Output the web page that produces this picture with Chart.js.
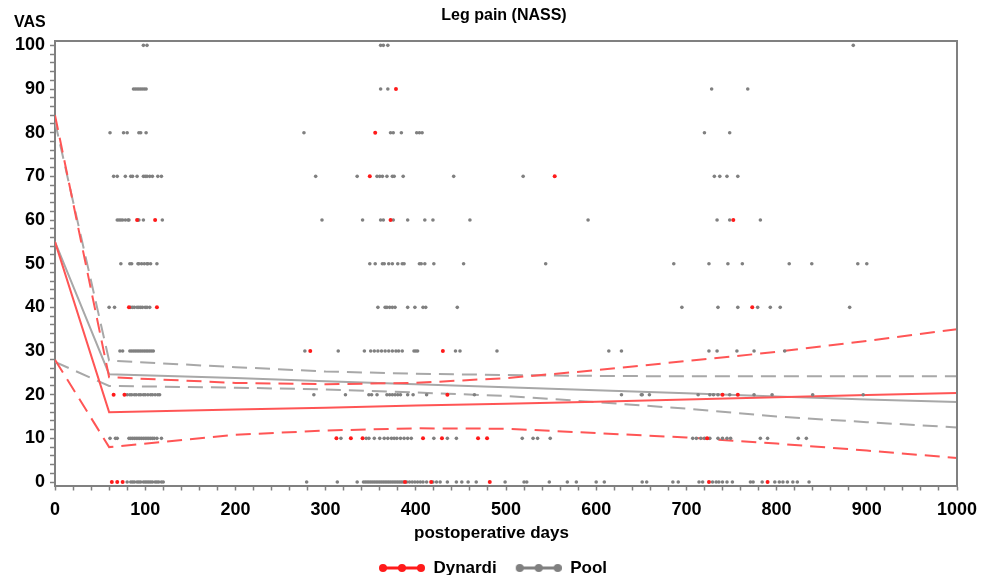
<!DOCTYPE html>
<html><head><meta charset="utf-8">
<script src="https://cdn.jsdelivr.net/npm/chart.js@4/dist/chart.umd.min.js"></script>
<style>html,body{margin:0;padding:0;background:#fff}#wrap{width:987px;height:575px}</style>
</head><body><div id="wrap"><canvas id="c" width="987" height="575"></canvas></div>
<script>
// ---------- text ----------
const chartTitle = 'Leg pain (NASS)';
const yAxisLabel = 'VAS';
const xAxisLabel = 'postoperative days';
const seriesNames = ['Dynardi', 'Pool'];
const xTickLabels = [0, 100, 200, 300, 400, 500, 600, 700, 800, 900, 1000];
const yTickLabels = [0, 10, 20, 30, 40, 50, 60, 70, 80, 90, 100];

// ---------- observations: postoperative day of each answer, per VAS level ----------
const poolVas100 = [98, 102, 361, 364, 369, 885];
const poolVas90 = [87, 89, 91, 93, 95, 97, 99, 101, 361, 369, 728, 768];
const poolVas80 = [61, 76, 80, 93, 95, 101, 276, 372, 375, 384, 401, 404, 407, 720, 748];
const poolVas70 = [65, 69, 78, 84, 86, 91, 98, 100, 102, 105, 108, 114, 118, 289, 335, 357, 360, 363, 368, 374, 376, 386, 442, 519, 731, 737, 745, 757];
const poolVas60 = [69, 71, 73, 75, 78, 81, 82, 92, 93, 98, 119, 296, 341, 361, 364, 375, 391, 410, 419, 460, 591, 734, 748, 782];
const poolVas50 = [73, 83, 85, 92, 93, 96, 99, 102, 103, 106, 113, 349, 355, 363, 365, 370, 374, 380, 385, 387, 404, 406, 410, 420, 453, 544, 686, 725, 746, 762, 814, 839, 890, 900];
const poolVas40 = [60, 66, 84, 86, 88, 91, 93, 95, 97, 100, 102, 105, 358, 366, 368, 371, 374, 377, 391, 399, 408, 411, 446, 695, 735, 757, 779, 793, 804, 881];
const poolVas30 = [72, 75, 83, 85, 87, 89, 91, 93, 95, 97, 99, 101, 103, 105, 107, 109, 277, 314, 343, 350, 354, 358, 362, 366, 370, 374, 378, 381, 385, 398, 400, 402, 444, 449, 490, 614, 628, 725, 734, 756, 775, 809];
const poolVas20 = [80, 83, 85, 88, 90, 93, 95, 98, 100, 103, 106, 108, 111, 114, 116, 287, 322, 348, 351, 357, 368, 371, 374, 377, 380, 383, 391, 397, 412, 465, 628, 650, 651, 659, 713, 726, 730, 735, 748, 775, 795, 840, 896];
const poolVas10 = [61, 67, 69, 82, 84, 86, 88, 90, 92, 94, 96, 98, 100, 102, 104, 106, 108, 110, 113, 118, 317, 345, 348, 354, 360, 365, 369, 373, 376, 379, 383, 387, 391, 395, 420, 435, 445, 518, 530, 535, 549, 707, 711, 716, 720, 726, 735, 740, 745, 749, 782, 790, 824, 833];
const poolVas0 = [80, 84, 86, 88, 91, 93, 95, 98, 100, 102, 104, 106, 108, 111, 113, 115, 118, 120, 279, 313, 335, 342, 344, 346, 348, 350, 352, 354, 356, 358, 360, 362, 364, 366, 368, 370, 372, 374, 376, 378, 380, 382, 384, 386, 390, 393, 396, 399, 402, 405, 408, 412, 419, 423, 427, 435, 445, 451, 458, 467, 499, 520, 523, 548, 568, 578, 600, 609, 651, 656, 685, 691, 714, 718, 729, 733, 736, 740, 745, 751, 771, 774, 784, 798, 803, 807, 812, 818, 823, 836];

const dynardiVas90 = [378];
const dynardiVas80 = [355];
const dynardiVas70 = [349, 554];
const dynardiVas60 = [91, 111, 372, 752];
const dynardiVas40 = [82, 113, 773];
const dynardiVas30 = [283, 430];
const dynardiVas20 = [65, 77, 435, 740, 757];
const dynardiVas10 = [312, 328, 341, 408, 429, 469, 479, 723];
const dynardiVas0 = [63, 69, 75, 388, 417, 482, 725, 790];

// ---------- fitted curves (mean and confidence band) ----------
const fitDays       = [0, 60, 200, 300, 400, 500, 600, 700, 800, 900, 1000];
const dynardiMean   = [55, 16, 16.6, 17.0, 17.5, 17.9, 18.4, 18.9, 19.4, 19.9, 20.4];
const dynardiUpper  = [84, 24, 22.7, 22.4, 22.7, 23.8, 25.6, 27.7, 29.8, 32.3, 35];
const dynardiLower  = [28, 8, 10.8, 11.8, 12.3, 12.2, 11.2, 10.2, 8.8, 7.2, 5.5];
const poolMean      = [55, 24.7, 23.8, 23.1, 22.4, 21.7, 21.0, 20.3, 19.6, 18.9, 18.3];
const poolUpper     = [82.5, 27.8, 26.3, 25.3, 24.8, 24.5, 24.3, 24.2, 24.2, 24.2, 24.2];
const poolLower     = [27.5, 22, 21.6, 21.2, 20.5, 19.7, 18.3, 16.8, 15, 13.7, 12.5];

// ---------- build datasets ----------
const atLevel = (level, days) => days.map(d => ({ x: d, y: level }));
const poolPoints = [].concat(
  atLevel(0, poolVas0), atLevel(10, poolVas10), atLevel(20, poolVas20), atLevel(30, poolVas30),
  atLevel(40, poolVas40), atLevel(50, poolVas50), atLevel(60, poolVas60), atLevel(70, poolVas70),
  atLevel(80, poolVas80), atLevel(90, poolVas90), atLevel(100, poolVas100));
const dynardiPoints = [].concat(
  atLevel(0, dynardiVas0), atLevel(10, dynardiVas10), atLevel(20, dynardiVas20), atLevel(30, dynardiVas30),
  atLevel(40, dynardiVas40), atLevel(60, dynardiVas60), atLevel(70, dynardiVas70),
  atLevel(80, dynardiVas80), atLevel(90, dynardiVas90));
const curve = vals => fitDays.map((d, i) => ({ x: d, y: vals[i] }));

const RED = '#ff1a1a', RED_LINE = '#ff5555', GRAY = '#808080', GRAY_LINE = '#a8a8a8';
const FONT = '"Liberation Sans", Arial, sans-serif';

function lineDs(label, vals, color, dashed) {
  return { type: 'line', label, data: curve(vals), borderColor: color, borderWidth: 2,
    borderDash: dashed ? [15, 8] : [], pointRadius: 0, fill: false, tension: 0, order: 3 };
}
function legendSymbol(color) {
  const c = document.createElement('canvas');
  c.width = 60; c.height = 12;
  const g = c.getContext('2d');
  g.strokeStyle = color; g.lineWidth = 3;
  g.beginPath(); g.moveTo(18, 6); g.lineTo(56, 6); g.stroke();
  g.fillStyle = color;
  [18, 37, 56].forEach(x => { g.beginPath(); g.arc(x, 6, 4, 0, Math.PI * 2); g.fill(); });
  return c;
}

const textPlugin = {
  id: 'frameAndText',
  afterDraw(chart) {
    const { ctx, chartArea: a } = chart;
    ctx.save();
    ctx.strokeStyle = GRAY; ctx.lineWidth = 2;
    ctx.beginPath(); ctx.moveTo(a.left, a.top); ctx.lineTo(a.right, a.top); ctx.lineTo(a.right, a.bottom); ctx.stroke();
    ctx.fillStyle = '#000'; ctx.textBaseline = 'middle';
    ctx.textAlign = 'center';
    ctx.font = 'bold 16px ' + FONT;
    ctx.fillText(chartTitle, (a.left + a.right) / 2 - 2, 16);
    ctx.font = 'bold 17px ' + FONT;
    ctx.fillText(xAxisLabel, chart.width / 2 - 2, 533);
    ctx.textAlign = 'left';
    ctx.font = 'bold 16px ' + FONT;
    ctx.fillText(yAxisLabel, 14, 23);
    ctx.restore();
  }
};

new Chart(document.getElementById('c'), {
  type: 'scatter',
  data: {
    datasets: [
      { label: seriesNames[0], data: dynardiPoints, backgroundColor: RED, borderColor: RED, borderWidth: 0, pointRadius: 2, pointStyle: 'circle', order: 1 },
      { label: seriesNames[1], data: poolPoints, backgroundColor: GRAY, borderColor: GRAY, borderWidth: 0, pointRadius: 1.8, pointStyle: 'circle', order: 2 },
      lineDs('Dynardi mean', dynardiMean, RED_LINE, false),
      lineDs('Dynardi upper', dynardiUpper, RED_LINE, true),
      lineDs('Dynardi lower', dynardiLower, RED_LINE, true),
      lineDs('Pool mean', poolMean, GRAY_LINE, false),
      lineDs('Pool upper', poolUpper, GRAY_LINE, true),
      lineDs('Pool lower', poolLower, GRAY_LINE, true)
    ]
  },
  options: {
    responsive: false,
    animation: false,
    layout: { padding: { top: 41, left: 15, right: 30, bottom: -11.5 } },
    plugins: {
      tooltip: { enabled: false },
      title: { display: false },
      legend: {
        display: true, position: 'bottom',
        labels: {
          usePointStyle: true, pointStyleWidth: 60, padding: 5, color: '#000',
          font: { family: FONT, size: 17, weight: 'bold' },
          generateLabels: () => [
            { text: seriesNames[0], pointStyle: legendSymbol(RED), fillStyle: RED, strokeStyle: RED, lineWidth: 0, hidden: false, datasetIndex: 0, fontColor: '#000' },
            { text: seriesNames[1], pointStyle: legendSymbol(GRAY), fillStyle: GRAY, strokeStyle: GRAY, lineWidth: 0, hidden: false, datasetIndex: 1, fontColor: '#000' }
          ]
        }
      }
    },
    scales: {
      x: {
        type: 'linear', min: 0, max: 1000,
        afterBuildTicks: s => { const t = []; for (let v = 0; v <= 1000; v += 20) t.push({ value: v }); s.ticks = t; },
        afterFit: s => { s.height = 69; },
        ticks: { autoSkip: false, maxRotation: 0, padding: 9, color: '#000',
          font: { family: FONT, size: 18, weight: 'bold' },
          callback: v => xTickLabels.includes(v) ? String(v) : '' },
        grid: { display: true, drawOnChartArea: false, drawTicks: true, tickLength: 5, tickColor: GRAY, tickWidth: 1.5 },
        border: { display: true, color: GRAY, width: 2 }
      },
      y: {
        type: 'linear', min: -0.8, max: 101,
        afterBuildTicks: s => { const t = []; for (let v = 0; v <= 100; v += 2) t.push({ value: v }); s.ticks = t; },
        afterFit: s => { s.width = 40; },
        ticks: { autoSkip: false, padding: 5, color: '#000',
          font: { family: FONT, size: 18, weight: 'bold' },
          callback: v => yTickLabels.includes(v) ? String(v) : '' },
        grid: { display: true, drawOnChartArea: false, drawTicks: true, tickLength: 5, tickColor: GRAY, tickWidth: 1.5 },
        border: { display: true, color: GRAY, width: 2 }
      }
    }
  },
  plugins: [textPlugin]
});
</script></body></html>
